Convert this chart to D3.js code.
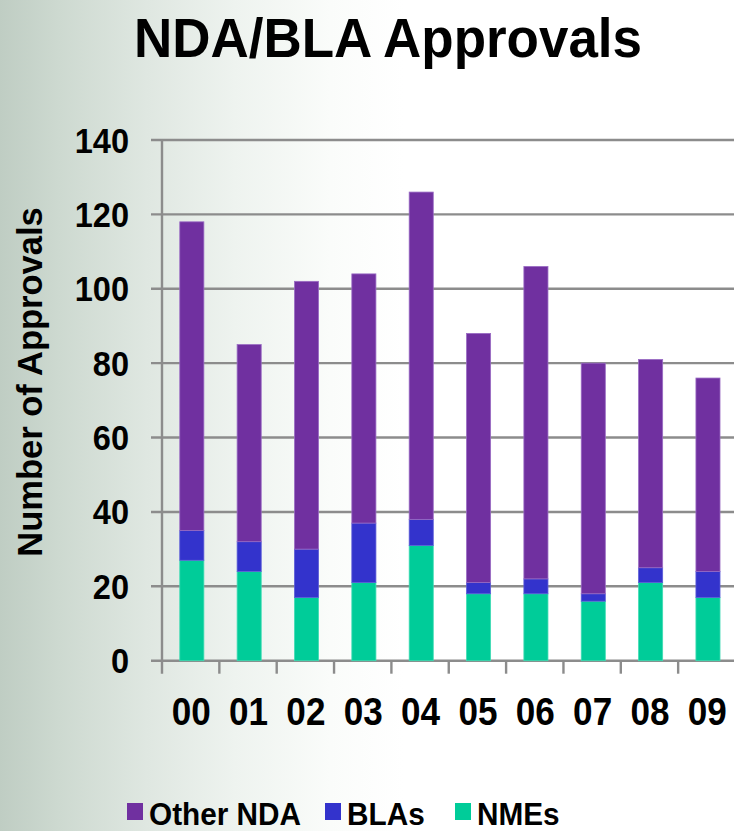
<!DOCTYPE html>
<html>
<head>
<meta charset="utf-8">
<script src="https://cdn.jsdelivr.net/npm/d3@7/dist/d3.min.js"></script>
<style>
  html, body { margin: 0; padding: 0; background: #fff; }
  svg { display: block; }
  text { font-family: "Liberation Sans", Arial, Helvetica, sans-serif; font-weight: bold; fill: #000; }
</style>
</head>
<body>
<svg id="chart" width="734" height="831"></svg>
<script>
// Fiscal years (two-digit labels)
const years = ["00", "01", "02", "03", "04", "05", "06", "07", "08", "09"];
// New molecular entities
const nmes = [27, 24, 17, 21, 31, 18, 18, 16, 21, 17];
// Biologic license applications
const blas = [8, 8, 13, 16, 7, 3, 4, 2, 4, 7];
// Remaining NDA approvals
const otherNda = [83, 53, 72, 67, 88, 67, 84, 62, 56, 52];
// Y axis ticks
const yTicks = [0, 20, 40, 60, 80, 100, 120, 140];

const seriesKeys = ["NMEs", "BLAs", "Other NDA"];
const colors = { "NMEs": "#00CC99", "BLAs": "#3333CC", "Other NDA": "#7030A0" };
const edge = { "NMEs": "#40dcb4", "BLAs": "#5c5cd8", "Other NDA": "#9a6cc4" };

const rows = years.map((y, i) => ({ year: y, "NMEs": nmes[i], "BLAs": blas[i], "Other NDA": otherNda[i] }));
const stacked = d3.stack().keys(seriesKeys)(rows);

const svg = d3.select("#chart");
const W = 734, H = 831;

// soft grey-green wash on the left side
const defs = svg.append("defs");
const grad = defs.append("linearGradient").attr("id", "bg").attr("x1", 0).attr("x2", 1).attr("y1", 0).attr("y2", 0);
[[0, "#bfcdc3"], [0.08, "#cdd9d0"], [0.2, "#dfe7e1"], [0.32, "#eef3ef"], [0.45, "#fafcfa"], [0.55, "#ffffff"], [1, "#ffffff"]]
  .forEach(([o, c]) => grad.append("stop").attr("offset", o).attr("stop-color", c));
svg.append("rect").attr("width", W).attr("height", H).attr("fill", "url(#bg)");

const plot = { left: 162, right: 735.5, top: 140, bottom: 660.7 };

const x = d3.scaleBand().domain(years).range([plot.left, plot.right]).padding(0);
const y = d3.scaleLinear().domain([0, 140]).range([plot.bottom, plot.top]);
const step = x.step();
const barOffset = step * 0.31, barW = step * 0.42;

const grey = "#8c8c8c";

// horizontal gridlines with short ticks left of the axis
svg.append("g").selectAll("line").data(yTicks).join("line")
  .attr("x1", plot.left - 11).attr("x2", plot.right)
  .attr("y1", d => y(d)).attr("y2", d => y(d))
  .attr("stroke", grey).attr("stroke-width", 2.4);

// vertical axis
svg.append("line").attr("x1", plot.left).attr("x2", plot.left)
  .attr("y1", y(140) - 1).attr("y2", y(0) + 13)
  .attr("stroke", grey).attr("stroke-width", 2.4);

// category separator ticks below the baseline
svg.append("g").selectAll("line").data(years.slice(1)).join("line")
  .attr("x1", d => x(d)).attr("x2", d => x(d))
  .attr("y1", y(0)).attr("y2", y(0) + 13)
  .attr("stroke", grey).attr("stroke-width", 2.4);

// stacked bars
svg.append("g").selectAll("g").data(stacked).join("g")
  .attr("fill", s => colors[s.key])
  .attr("stroke", s => edge[s.key]).attr("stroke-width", 0.8)
  .selectAll("rect").data(s => s).join("rect")
  .attr("x", d => x(d.data.year) + barOffset)
  .attr("width", barW)
  .attr("y", d => y(d[1]))
  .attr("height", d => y(d[0]) - y(d[1]));

// y tick labels
svg.append("g").selectAll("text").data(yTicks).join("text")
  .attr("transform", d => `translate(129,${y(d) + 12.5}) scale(0.93,1)`)
  .attr("text-anchor", "end")
  .style("font-size", "35px")
  .text(d => d);

// x tick labels
svg.append("g").selectAll("text").data(years).join("text")
  .attr("transform", d => `translate(${x(d) + step / 2 + 0.5},725) scale(0.9,1)`)
  .attr("text-anchor", "middle")
  .style("font-size", "39px")
  .text(d => d);

// y axis title
svg.append("text")
  .attr("transform", "translate(42,382) rotate(-90)")
  .attr("text-anchor", "middle")
  .style("font-size", "34.5px")
  .text("Number of Approvals");

// chart title
svg.append("text")
  .attr("x", 134).attr("y", 57)
  .attr("textLength", 508)
  .attr("lengthAdjust", "spacingAndGlyphs")
  .style("font-size", "55px")
  .text("NDA/BLA Approvals");

// legend
const legendItems = [
  { key: "Other NDA", x: 127 },
  { key: "BLAs", x: 325 },
  { key: "NMEs", x: 455 }
];
const lg = svg.append("g").selectAll("g").data(legendItems).join("g")
  .attr("transform", d => `translate(${d.x},0)`);
lg.append("rect").attr("x", 0).attr("y", 803).attr("width", 16).attr("height", 17)
  .attr("fill", d => colors[d.key]);
lg.append("text")
  .attr("transform", "translate(22,825) scale(0.93,1)")
  .style("font-size", "32px")
  .text(d => d.key);
</script>
</body>
</html>
